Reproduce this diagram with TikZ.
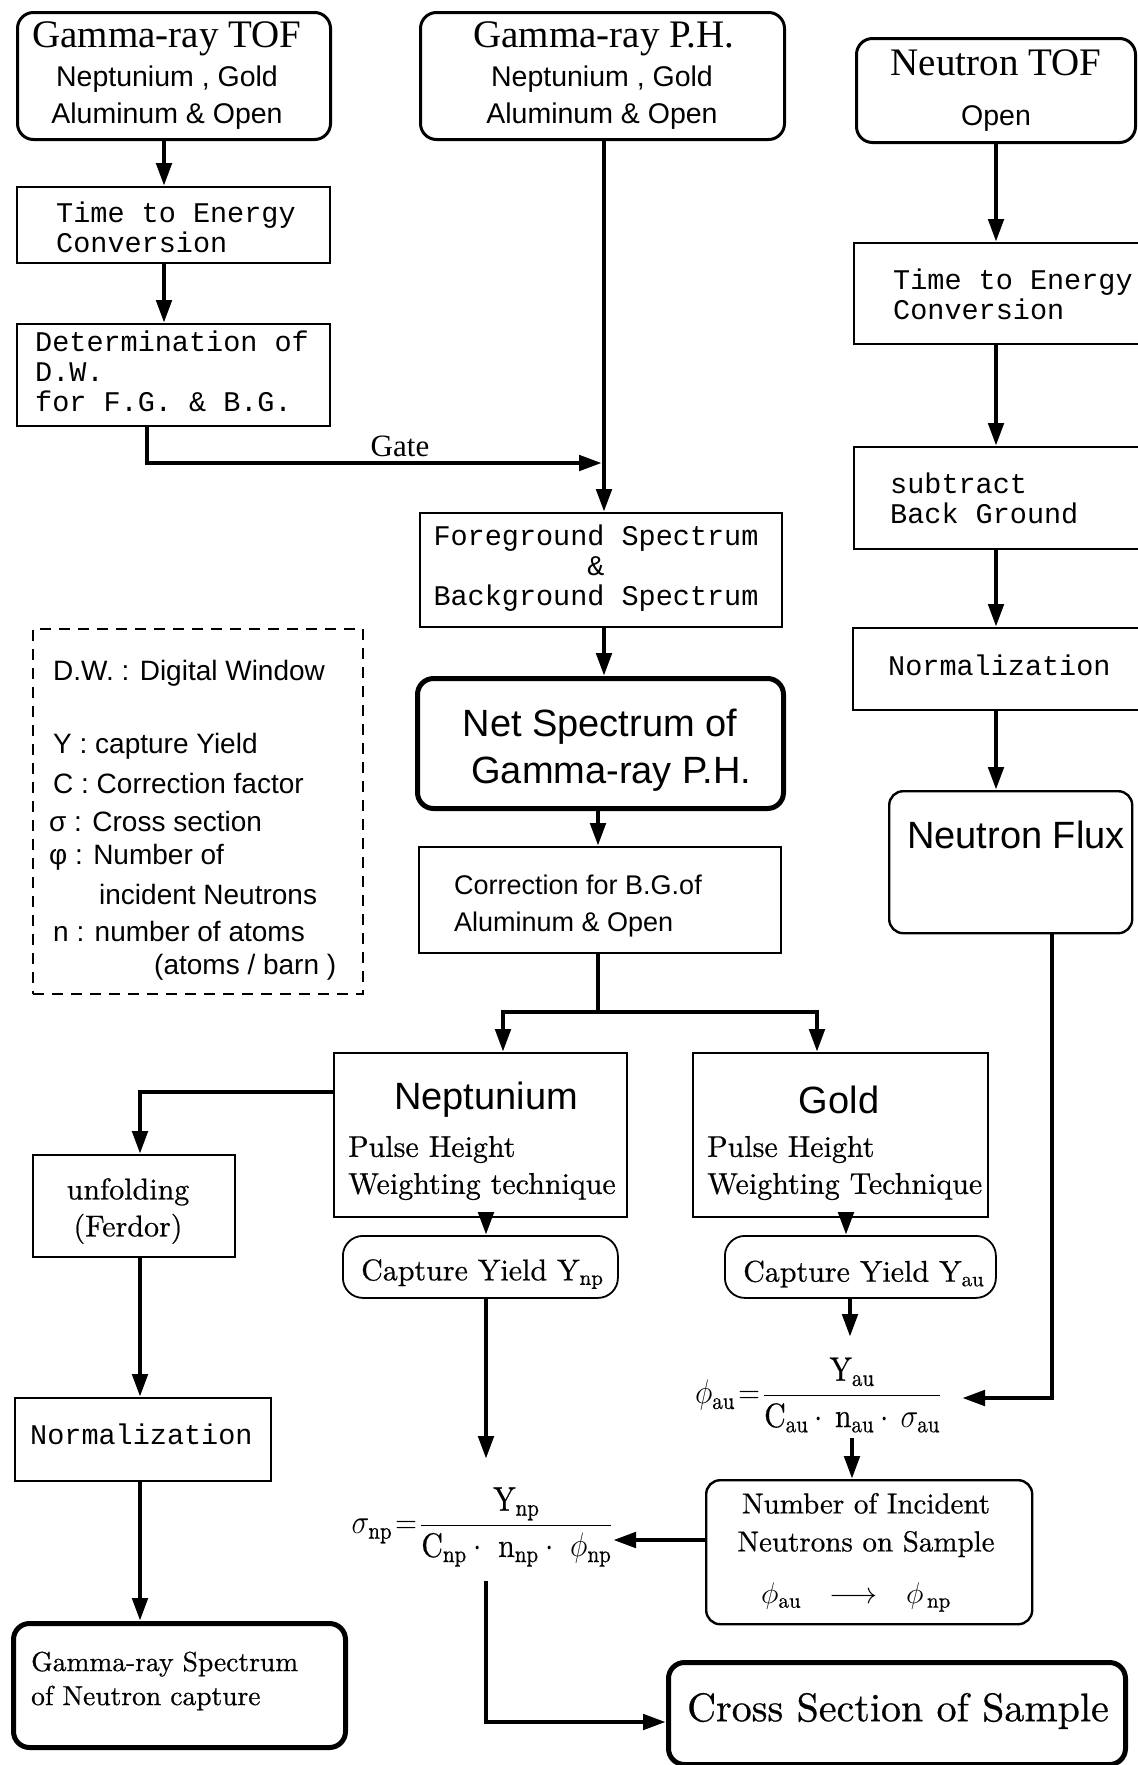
\RequirePackage{fix-cm}
\documentclass[tikz,border=0pt]{standalone}
\usepackage{amsmath}
\usepackage{graphicx}
\usepackage{fontspec}
\setmainfont{lmroman10-regular.otf}[FakeBold=0.6]
\newfontfamily\tms{Liberation Serif}
\newfontfamily\hv{Liberation Sans}
\newfontfamily\cou{Liberation Mono}
\usetikzlibrary{arrows.meta}
\begin{document}
\begin{tikzpicture}[x=1pt,y=-1pt,
  box/.style={draw, line width=2pt, inner sep=0pt, anchor=north west},
  rbox/.style={box, rounded corners=16pt, line width=3pt},
  thbox/.style={box, rounded corners=16pt, line width=5pt},
  mbox/.style={box, rounded corners=14pt, line width=2.4pt},
  cbox/.style={box, rounded corners=20pt, line width=1.8pt},
  legbox/.style={box, dash pattern=on 11pt off 8pt, line width=2pt},
  arr/.style={line width=4.8pt, -{Triangle[length=23pt,width=15pt]}},
  conn/.style={line width=4.8pt},
  fT/.style={inner sep=0pt, font=\tms\fontsize{39}{44}\selectfont},
  fH/.style={inner sep=0pt, font=\hv\fontsize{28.5}{37}\selectfont, align=center},
  fM/.style={inner sep=0pt, font=\cou\fontsize{28.5}{30}\selectfont, align=left, anchor=west},
  fR/.style={inner sep=0pt, font=\fontsize{30}{37}\selectfont, align=left, anchor=west},
  fB/.style={inner sep=0pt, font=\hv\fontsize{38}{47}\selectfont, align=center},
  fL/.style={inner sep=0pt, font=\hv\fontsize{28}{34}\selectfont, anchor=west},
  fX/.style={inner sep=0pt, font=\fontsize{34}{40}\selectfont},
]
\useasboundingbox (0,0) rectangle (1138,1765);
\clip (0,0) rectangle (1138,1765);

% ---------- boxes ----------
\node[rbox, minimum width=313pt, minimum height=127pt] (gtof) at (16,11) {};
\node[rbox, minimum width=364pt, minimum height=127pt] (gph) at (419,11) {};
\node[rbox, minimum width=279pt, minimum height=104pt] (ntof) at (855,37) {};
\node[box, minimum width=313pt, minimum height=76pt] (tec1) at (16,186) {};
\node[box, minimum width=313pt, minimum height=102pt] (det) at (16,323) {};
\node[box, minimum width=362pt, minimum height=114pt] (fg) at (419,512) {};
\node[thbox, minimum width=366pt, minimum height=130pt] (net) at (415,676) {};
\node[box, minimum width=362pt, minimum height=106pt] (corr) at (418,846) {};
\node[box, minimum width=293pt, minimum height=164pt] (nep) at (333,1052) {};
\node[box, minimum width=295pt, minimum height=164pt] (gold) at (692,1052) {};
\node[cbox, minimum width=275pt, minimum height=62pt] (cyn) at (342,1235) {};
\node[cbox, minimum width=271pt, minimum height=62pt] (cya) at (724,1235) {};
\node[box, minimum width=202pt, minimum height=102pt] (unf) at (32,1154) {};
\node[box, minimum width=256pt, minimum height=83pt] (normL) at (14,1397) {};
\node[thbox, minimum width=332pt, minimum height=124pt] (grs) at (11,1621) {};
\node[box, minimum width=300pt, minimum height=101pt] (ntec) at (853,242) {};
\node[box, minimum width=300pt, minimum height=102pt] (sub) at (853,446) {};
\node[box, minimum width=300pt, minimum height=82pt] (normR) at (852,627) {};
\node[mbox, minimum width=243pt, minimum height=142pt] (flux) at (888,790) {};
\node[mbox, minimum width=326pt, minimum height=144pt] (nis) at (705,1479) {};
\node[thbox, minimum width=457pt, minimum height=102pt] (cs) at (666,1660) {};
\node[legbox, minimum width=330pt, minimum height=365pt] (leg) at (32,628) {};

% ---------- texts ----------
\node[fT] (gtoft) at (167,39) {Gamma-ray TOF};
\node[fH] (gtofs) at (167,98) {Neptunium , Gold\\Aluminum \& Open};
\node[fT] (gpht) at (604,39) {Gamma-ray P.H.};
\node[fH] (gphs) at (602,98) {Neptunium , Gold\\Aluminum \& Open};
\node[fT] (ntoft) at (996,63) {Neutron TOF};
\node[fH] (ntofs) at (996,119) {Open};
\node[fM] (tec1t) at (56,227) {Time to Energy\\Conversion};
\node[fM] (dett) at (35,371) {Determination of\\D.W.\\for F.G. \& B.G.};
\node[fM, align=center, anchor=center] (fgt) at (596,568) {Foreground Spectrum\\\&\\Background Spectrum};
\node[fB] (nett) at (600,750) {Net Spectrum of\\\hspace*{0.6em}Gamma-ray P.H.};
\node[fL, font=\hv\fontsize{27}{37}\selectfont, align=left] (corrt) at (454,906) {Correction for B.G.of\\Aluminum \& Open};
\node[fB] (nept) at (486,1100) {Neptunium};
\node[fB] (goldt) at (839,1100) {Gold};
\node[fR] (nepp) at (348,1168) {Pulse Height\\Weighting technique};
\node[fR] (goldp) at (707,1168) {Pulse Height\\Weighting Technique};
\node[fR] (cynt) at (361,1274) {Capture Yield $\mathrm{Y}_{\mathrm{np}}$};
\node[fR] (cyat) at (743,1274) {Capture Yield $\mathrm{Y}_{\mathrm{au}}$};
\node[fR, align=center, anchor=center] (unft) at (128,1211) {unfolding\\(Ferdor)};
\node[fM] (normLt) at (30,1434) {Normalization};
\node[fR, font=\fontsize{27.5}{34}\selectfont] (grst) at (31,1681) {Gamma-ray Spectrum\\of Neutron capture};
\node[fM] (ntect) at (893,294) {Time to Energy\\Conversion};
\node[fM] (subt) at (890,498) {subtract\\Back Ground};
\node[fM] (normRt) at (888,665) {Normalization};
\node[fB] (fluxt) at (1016,835) {Neutron Flux};
\node[fR, font=\fontsize{29}{38}\selectfont, align=center, anchor=center] (nist) at (866,1525) {Number of Incident\\Neutrons on Sample};
\node[fX, font=\fontsize{30}{36}\selectfont] (nism) at (856,1597) {$\phi_{\mathrm{au}}\ \ \longrightarrow\ \ \phi_{\,\mathrm{np}}$};
\node[inner sep=0pt, font=\fontsize{40}{48}\selectfont] (cst) at (898,1711) {Cross Section of Sample};
\node[inner sep=0pt, font=\tms\fontsize{31}{36}\selectfont] (gate) at (400,446) {Gate};

% formulas
\node[fX] (phiau) at (818,1395) {\scalebox{0.88}[1]{$\phi_{\mathrm{au}}\!=\!\dfrac{\mathrm{Y_{au}}}{\mathrm{C_{au}}\cdot\,\mathrm{n_{au}}\cdot\,\sigma_{\mathrm{au}}}$}};
\node[fX] (signp) at (482,1527) {\scalebox{0.88}[1]{$\sigma_{\mathrm{np}}\!=\!\dfrac{\mathrm{Y_{np}}}{\mathrm{C_{np}}\cdot\ \mathrm{n_{np}}\cdot\ \phi_{\mathrm{np}}}$}};

% legend
\node[fL] (l1) at (53,673) {D.W. : Digital Window};
\node[fL] (l2) at (53,746) {Y : capture Yield};
\node[fL] (l3) at (53,783) {C : Correction factor};
\node[fL] (l4) at (49,821) {σ : Cross section};
\node[fL] (l5) at (49,857) {φ : Number of};
\node[fL] (l6) at (99,894) {incident Neutrons};
\node[fL] (l7) at (53,931) {n : number of atoms};
\node[fL] (l8) at (154,967) {(atoms / barn )};

% ---------- column coordinates ----------
\coordinate (xA) at (164,0);
\coordinate (xG) at (147,0);
\coordinate (xM) at (604,0);
\coordinate (xM2) at (598,0);
\coordinate (xN) at (503,0);
\coordinate (xGd) at (817,0);
\coordinate (xU) at (140,0);
\coordinate (yU) at (0,1092);
\coordinate (xY) at (486,0);
\coordinate (xYa) at (846,0);
\coordinate (xP) at (850,0);
\coordinate (xR) at (996,0);
\coordinate (xF) at (1052,0);
\coordinate (yS) at (0,1540);
\coordinate (yC) at (0,1722);
\coordinate (gtip) at (602,463);
\coordinate (split) at (598,1012);
\coordinate (sigtip) at (486,1459);
\coordinate (phitip) at (850,1337);
\coordinate (phiin) at (962,1398);
\coordinate (phiout) at (852,1438);
\coordinate (sigin) at (613,1540);
\coordinate (sigout) at (486,1581);

% ---------- connectors ----------
\draw[arr] (gtof.south -| xA) -- (tec1.north -| xA);
\draw[arr] (tec1.south -| xA) -- (det.north -| xA);
\draw[arr] (det.south -| xG) |- (gtip);
\draw[arr] (gph.south -| xM) -- (fg.north -| xM);
\draw[arr] (fg.south -| xM) -- (net.north -| xM);
\draw[arr] (net.south -| xM2) -- (corr.north -| xM2);
\draw[conn] (corr.south -| xM2) -- (split);
\draw[arr] (split) -| (nep.north -| xN);
\draw[arr] (split) -| (gold.north -| xGd);
\draw[arr] (nep.west |- yU) -| (unf.north -| xU);
\draw[arr] (unf.south -| xU) -- (normL.north -| xU);
\draw[arr] (normL.south -| xU) -- (grs.north -| xU);
\draw[arr] (nep.south -| xY) -- (cyn.north -| xY);
\draw[arr] (gold.south -| xYa) -- (cya.north -| xYa);
\draw[arr] (cyn.south -| xY) -- (sigtip);
\draw[arr] (cya.south -| xP) -- (phitip);
\draw[arr] (ntof.south -| xR) -- (ntec.north -| xR);
\draw[arr] (ntec.south -| xR) -- (sub.north -| xR);
\draw[arr] (sub.south -| xR) -- (normR.north -| xR);
\draw[arr] (normR.south -| xR) -- (flux.north -| xR);
\draw[arr] (flux.south -| xF) |- (phiin);
\draw[arr] (phiout) -- (nis.north -| phiout);
\draw[arr] (nis.west |- yS) -- (sigin);
\draw[arr] (sigout) |- (cs.west |- yC);
\end{tikzpicture}
\end{document}
